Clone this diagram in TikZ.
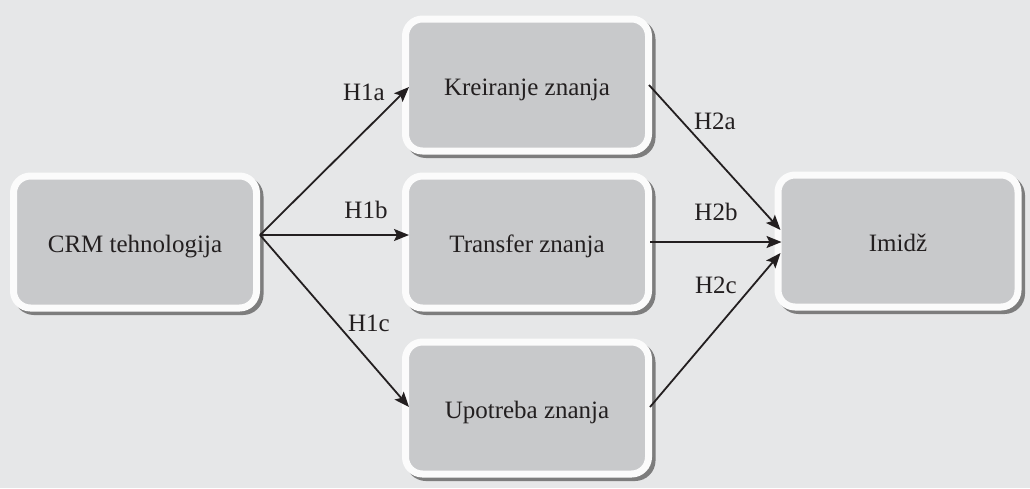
\documentclass[tikz,border=0pt]{standalone}
\usepackage{fontspec}
\setmainfont{Liberation Serif}
\usetikzlibrary{arrows.meta}
\definecolor{bggray}{HTML}{E6E7E8}
\definecolor{boxfill}{HTML}{C8C9CB}
\definecolor{boxrim}{HTML}{FBFBFB}
\definecolor{shadowgray}{HTML}{7D7D7D}
\definecolor{ink}{HTML}{231F20}
\tikzset{
  conceptbox/.style={
    rectangle, rounded corners=17pt, draw=boxrim, line width=7pt,
    fill=boxfill, minimum width=243pt, minimum height=132pt, inner sep=0pt,
    text=ink, font=\fontsize{25}{30}\selectfont,
    text height=20pt, text depth=0pt,
    preaction={draw=shadowgray, fill=shadowgray, line width=7pt,
      transform canvas={shift={(3.5pt,-3.5pt)}}}
  },
  hyplabel/.style={text=ink, font=\fontsize{25}{30}\selectfont, inner sep=0pt},
  link/.style={draw=ink, line width=1.8pt,
    -{Stealth[length=15pt,width=12pt,inset=3pt]}}
}
\begin{document}
\begin{tikzpicture}[x=1pt,y=-1pt]
  % canvas
  \fill[bggray] (0,0) rectangle (1030,488);
  \useasboundingbox (0,0) rectangle (1030,488);

  % concept boxes
  \node[conceptbox] (crm) at (135,242) {CRM tehnologija};
  \node[conceptbox] (kre) at (527,85)  {Kreiranje znanja};
  \node[conceptbox] (tra) at (527,242) {Transfer znanja};
  \node[conceptbox] (upo) at (527,408) {Upotreba znanja};
  \node[conceptbox, minimum width=240pt] (imi) at (898,241) {Imidž};

  % hypothesised paths
  \draw[link] ([yshift=7pt]crm.east) -- ([xshift=7pt,yshift=-2pt]kre.west);
  \draw[link] ([yshift=7pt]crm.east) -- ([xshift=7pt,yshift=7pt]tra.west);
  \draw[link] ([yshift=7pt]crm.east) -- ([xshift=7pt,yshift=1pt]upo.west);
  \draw[link] ([xshift=-3pt]kre.east) -- ([xshift=6pt,yshift=11pt]imi.west);
  \draw[link] ([xshift=-2pt]tra.east) -- ([xshift=7pt,yshift=-1pt]imi.west);
  \draw[link] ([xshift=-2pt,yshift=1pt]upo.east) -- ([xshift=6pt,yshift=-12pt]imi.west);

  % path labels
  \node[hyplabel] (h1a) at (364,92)  {H1a};
  \node[hyplabel] (h1b) at (366,210) {H1b};
  \node[hyplabel] (h1c) at (369,323) {H1c};
  \node[hyplabel] (h2a) at (715,121) {H2a};
  \node[hyplabel] (h2b) at (716,212) {H2b};
  \node[hyplabel] (h2c) at (716,285) {H2c};
\end{tikzpicture}
\end{document}
